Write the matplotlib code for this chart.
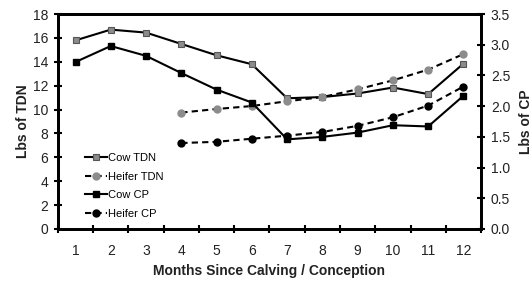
import matplotlib
matplotlib.use('Agg')
import matplotlib.pyplot as plt

plt.rcParams['font.family'] = ['Liberation Sans', 'DejaVu Sans']

months = list(range(1, 13))
heifer_months = list(range(4, 13))

# Left axis (Lbs of TDN)
cow_tdn = [15.8, 16.7, 16.45, 15.5, 14.55, 13.8, 10.95, 11.05, 11.35, 11.85, 11.3, 13.85]
heifer_tdn = [9.75, 10.05, 10.3, 10.7, 11.05, 11.7, 12.45, 13.35, 14.65]
# Right axis (Lbs of CP)
cow_cp = [2.72, 2.98, 2.82, 2.54, 2.27, 2.06, 1.46, 1.50, 1.57, 1.69, 1.67, 2.17]
heifer_cp = [1.40, 1.42, 1.47, 1.52, 1.58, 1.68, 1.82, 2.01, 2.32]

GREY = '#8c8c8c'
TEXT = '#222222'

fig = plt.figure(figsize=(5.31, 2.82), dpi=100)
ax = fig.add_axes([0.109, 0.188, 0.797, 0.762])
ax2 = ax.twinx()

l1, = ax.plot(months, cow_tdn, color='black', lw=1.5, marker='s', ms=5,
              mfc=GREY, mec='#555555', mew=0.8, label='Cow TDN')
l2, = ax.plot(heifer_months, heifer_tdn, color='black', lw=1.5, ls=(0, (3, 2)),
              marker='o', ms=5, mfc=GREY, mec=GREY, label='Heifer TDN')
l3, = ax2.plot(months, cow_cp, color='black', lw=1.5, marker='s', ms=5,
               mfc='black', mec='black', label='Cow CP')
l4, = ax2.plot(heifer_months, heifer_cp, color='black', lw=1.5, ls=(0, (3, 2)),
               marker='o', ms=5, mfc='black', mec='black', label='Heifer CP')

ax.set_xlim(0.5, 12.5)
ax.set_ylim(0, 18)
ax2.set_ylim(0, 3.5)
ax.set_yticks(range(0, 19, 2))
ax2.set_yticks([i * 0.5 for i in range(8)])
ax2.set_yticklabels([f'{i * 0.5:.1f}' for i in range(8)])

ax.set_xticks(months)
ax.set_xticks([m + 0.5 for m in range(0, 13)], minor=True)
ax.tick_params(axis='x', which='major', length=0, pad=11, labelsize=10, labelcolor=TEXT)
ax.tick_params(axis='x', which='minor', direction='inout', length=6, width=1.5)
ax.tick_params(axis='y', direction='inout', length=6, width=1.5, labelsize=10, labelcolor=TEXT, pad=4)
ax2.tick_params(axis='y', direction='inout', length=6, width=1.5, labelsize=10, labelcolor=TEXT, pad=4)

for a in (ax, ax2):
    for s in a.spines.values():
        s.set_linewidth(2)

ax.set_xlabel('Months Since Calving / Conception', fontsize=10, fontweight='bold', color=TEXT, labelpad=4)
ax.set_ylabel('Lbs of TDN', fontsize=10, fontweight='bold', color=TEXT, labelpad=2)
ax2.set_ylabel('Lbs of CP', fontsize=10, fontweight='bold', color=TEXT, labelpad=6)

ax.legend(handles=[l1, l2, l3, l4], loc='lower left', bbox_to_anchor=(0.04, 0.0),
          frameon=False, fontsize=8, handlelength=2.0, handletextpad=0.1,
          labelspacing=0.78, borderaxespad=0.5)

fig.savefig('out.png', dpi=100)
